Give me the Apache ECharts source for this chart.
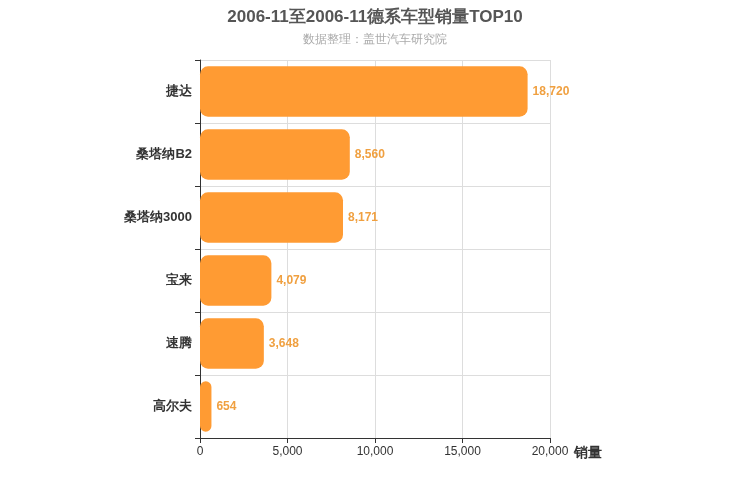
<!DOCTYPE html><html><head><meta charset="utf-8"><script src="https://cdn.jsdelivr.net/npm/echarts@6/dist/echarts.min.js"></script></head><body style="margin:0"><div id="c" style="width:750px;height:500px"></div><script>
const categories=['高尔夫','速腾','宝来','桑塔纳3000','桑塔纳B2','捷达'];
const values=[654,3648,4079,8171,8560,18720];
const xTicks=[0,5000,10000,15000,20000];
const ch=echarts.init(document.getElementById('c'));
ch.setOption({
title:{text:'2006-11至2006-11德系车型销量TOP10',subtext:'数据整理：盖世汽车研究院',left:'center',top:4,textStyle:{fontSize:17,fontWeight:'bold',color:'#555'},subtextStyle:{fontSize:12,color:'#aaa'},itemGap:8},
grid:{left:200,right:200,top:60,bottom:62},
xAxis:{type:'value',min:0,max:20000,interval:5000,name:'销量',nameGap:15,nameTextStyle:{fontSize:14,fontWeight:'bold',color:'#333',verticalAlign:'top',padding:[8,0,0,0]},axisLine:{show:true,lineStyle:{color:'#333'}},axisTick:{show:true},axisLabel:{color:'#333',formatter:v=>v.toLocaleString('en-US')},splitLine:{lineStyle:{color:'#ddd'}}},
yAxis:{type:'category',data:categories,axisLine:{lineStyle:{color:'#333'}},axisTick:{show:true},axisLabel:{color:'#333',fontSize:13,fontWeight:'bold'},splitLine:{show:true,lineStyle:{color:'#ddd'}}},
series:[{type:'bar',data:values,barWidth:'80%',itemStyle:{color:'#ff9b33',borderRadius:8},label:{show:true,position:'right',color:'#f0a040',fontWeight:'bold',formatter:p=>p.value.toLocaleString('en-US')}}]
});
</script></body></html>
